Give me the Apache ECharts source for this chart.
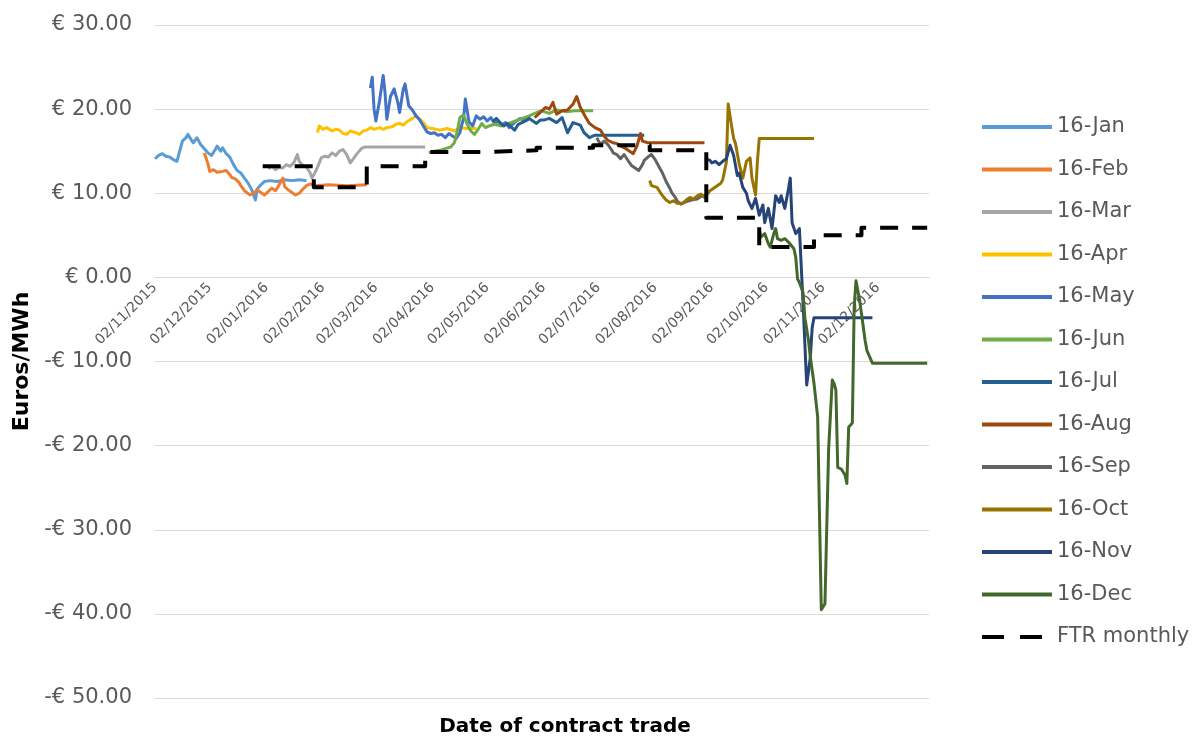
<!DOCTYPE html>
<html>
<head>
<meta charset="utf-8">
<script src="https://cdn.jsdelivr.net/npm/echarts@6/dist/echarts.min.js"></script>
<style>html,body{margin:0;padding:0;background:#fff}#c{width:1203px;height:740px}</style>
</head>
<body>
<div id="c"></div>
<script>
// x values: trade day, counted in days since 02/11/2015
const tickLabels = ['02/11/2015','02/12/2015','02/01/2016','02/02/2016','02/03/2016','02/04/2016','02/05/2016','02/06/2016','02/07/2016','02/08/2016','02/09/2016','02/10/2016','02/11/2016','02/12/2016'];
const seriesNames = ['16-Jan','16-Feb','16-Mar','16-Apr','16-May','16-Jun','16-Jul','16-Aug','16-Sep','16-Oct','16-Nov','16-Dec','FTR monthly'];

const jan16 = [[0,14.1],[2,14.5],[4,14.7],[6,14.4],[8,14.3],[10,14.0],[12,13.8],[13,14.6],[15,16.2],[17,16.6],[18,17.0],[20,16.3],[21,16.0],[23,16.6],[25,15.8],[27,15.3],[29,14.8],[31,14.5],[33,15.2],[34,15.6],[36,15.0],[37,15.4],[39,14.7],[41,14.3],[43,13.4],[45,12.7],[47,12.4],[49,11.8],[51,11.2],[53,10.4],[55,9.2],[56,10.5],[58,11.0],[60,11.4],[63,11.5],[67,11.4],[71,11.6],[75,11.5],[79,11.6],[83,11.5]];
const feb16 = [[27,14.8],[29,13.5],[30,12.6],[32,12.8],[34,12.5],[37,12.6],[39,12.7],[41,12.2],[42,11.9],[44,11.7],[46,11.3],[47,10.9],[49,10.3],[50,10.1],[52,9.8],[54,10.0],[56,10.4],[58,10.1],[60,9.8],[62,10.2],[64,10.6],[66,10.3],[68,11.0],[70,11.8],[71,10.8],[73,10.4],[75,10.1],[77,9.8],[79,10.0],[81,10.5],[83,10.9],[85,11.1],[88,10.9],[95,11.0],[105,10.9],[116,11.0]];
const mar16 = [[62,12.9],[64,13.2],[66,12.8],[68,13.1],[70,13.0],[72,13.4],[74,13.2],[76,13.6],[78,14.6],[79,13.8],[81,13.3],[83,13.1],[85,12.4],[86,11.8],[88,12.6],[90,13.6],[91,14.2],[93,14.4],[95,14.3],[97,14.8],[99,14.5],[101,15.0],[103,15.2],[105,14.6],[107,13.6],[109,14.2],[111,14.8],[113,15.3],[115,15.5],[125,15.5],[135,15.5],[148,15.5]];
const apr16 = [[89,17.2],[90,18.0],[92,17.6],[94,17.8],[97,17.4],[99,17.6],[101,17.5],[103,17.1],[105,17.0],[107,17.4],[108,17.5],[110,17.2],[112,17.0],[114,17.4],[116,17.5],[118,17.8],[120,17.6],[123,17.8],[125,17.6],[127,17.8],[130,17.9],[132,18.2],[134,18.3],[136,18.1],[138,18.5],[141,18.9],[143,19.2],[145,18.8],[147,18.4],[149,17.8],[152,17.7],[156,17.5],[160,17.7],[164,17.4],[167,17.8],[171,17.7],[176,17.7]];
const may16 = [[118,22.5],[119,23.8],[120,20.0],[121,18.6],[123,21.0],[125,24.0],[126,22.0],[127,18.8],[129,21.5],[131,22.4],[133,20.8],[134,19.6],[136,22.4],[137,23.0],[139,20.4],[141,19.9],[143,19.2],[145,18.7],[147,18.0],[149,17.3],[151,17.1],[153,17.2],[155,16.9],[157,17.0],[159,16.6],[161,17.1],[163,16.8],[165,16.5],[167,17.2],[169,18.9],[170,21.2],[172,18.5],[174,18.0],[176,19.2],[178,18.8],[180,19.1],[182,18.6],[184,19.0],[186,18.3],[188,18.6],[190,18.1],[192,18.4],[194,17.8],[196,18.2],[198,18.6],[200,18.9],[202,18.7],[205,18.8]];
const jun16 = [[150,14.8],[153,15.0],[156,15.1],[159,15.3],[162,15.5],[164,16.0],[166,17.8],[167,19.0],[169,19.3],[171,18.2],[173,17.4],[175,17.0],[177,17.6],[179,18.3],[181,17.8],[183,18.0],[186,18.2],[190,18.0],[195,18.4],[200,18.8],[205,19.2],[209,19.6],[212,19.8],[216,19.5],[220,19.9],[225,19.7],[230,19.8],[235,19.8],[240,19.8]];
const jul16 = [[185,18.5],[187,18.9],[189,18.4],[191,18.0],[193,18.3],[195,17.9],[197,17.5],[199,18.2],[201,18.4],[203,18.6],[205,18.9],[207,18.6],[209,18.3],[211,18.7],[213,18.7],[216,18.9],[220,18.4],[223,19.0],[226,17.2],[229,18.4],[233,18.1],[235,17.2],[238,16.6],[241,16.9],[250,16.9],[260,16.9],[268,16.9]];
const aug16 = [[208,19.0],[211,19.6],[214,20.2],[216,20.0],[218,20.8],[220,19.4],[223,19.8],[226,19.9],[229,20.6],[231,21.5],[233,20.2],[234,19.8],[236,19.0],[238,18.3],[241,17.8],[244,17.5],[246,16.8],[248,16.3],[251,16.0],[253,15.9],[256,15.5],[258,15.3],[260,15.0],[262,14.7],[264,15.6],[266,17.1],[267,16.2],[270,16.0],[285,16.0],[301,16.0]];
const sep16 = [[242,16.6],[244,15.8],[246,16.2],[248,15.8],[250,15.2],[251,14.8],[253,14.6],[255,14.1],[257,14.6],[258,14.4],[260,13.6],[261,13.3],[263,13.0],[265,12.7],[267,13.4],[268,13.9],[270,14.3],[272,14.6],[274,14.0],[275,13.6],[277,12.8],[278,12.4],[280,11.4],[282,10.6],[283,10.1],[285,9.5],[286,9.1],[288,8.7],[289,8.6],[291,9.0],[292,8.8],[294,9.2],[295,9.4],[297,9.3],[299,9.6],[302,9.8]];
const oct16 = [[271,11.5],[272,10.9],[275,10.7],[278,9.7],[280,9.2],[282,8.9],[284,9.1],[286,8.8],[289,8.8],[291,9.2],[293,9.5],[295,9.3],[297,9.7],[299,9.9],[300,10.1],[301,9.5],[303,10.0],[304,10.3],[306,10.6],[308,10.9],[310,11.2],[311,11.6],[313,13.7],[314,20.6],[316,17.8],[317,16.5],[318,15.9],[320,13.5],[322,11.8],[324,13.8],[326,14.2],[327,11.8],[329,9.8],[330,13.8],[331,16.5],[340,16.5],[350,16.5],[361,16.5]];
const nov16 = [[302,14.1],[304,13.9],[305,13.6],[307,13.8],[309,13.4],[311,13.8],[313,14.1],[315,15.7],[317,14.5],[319,12.1],[320,12.4],[322,10.7],[324,10.0],[325,9.1],[327,8.2],[329,9.4],[331,7.4],[333,8.6],[334,6.5],[336,8.2],[338,5.8],[340,9.7],[342,8.9],[343,9.7],[345,8.2],[347,10.5],[348,11.8],[349,6.5],[351,5.2],[352,5.0],[353,5.8],[355,-3.0],[357,-12.8],[359,-9.5],[360,-6.0],[361,-4.8],[375,-4.8],[393,-4.8]];
const dec16 = [[331,5.6],[332,4.8],[334,5.2],[336,4.0],[337,3.6],[339,5.2],[340,5.8],[341,4.6],[343,4.4],[345,4.6],[347,4.2],[348,4.2],[350,3.4],[351,2.4],[352,-0.2],[353,-0.6],[354,-1.2],[355,-1.8],[356,-4.8],[358,-7.5],[359,-9.5],[361,-12.6],[363,-16.6],[365,-39.5],[367,-38.8],[368,-38.7],[369,-20.5],[371,-12.2],[372,-12.6],[373,-13.4],[374,-22.6],[376,-22.8],[377,-22.9],[378,-23.5],[379,-24.5],[380,-17.8],[382,-17.3],[383,-3.6],[384,-0.4],[386,-2.7],[387,-4.3],[389,-7.5],[390,-8.7],[393,-10.2],[400,-10.2],[410,-10.2],[423,-10.2]];
const ftrMonthly = [[59,13.2],[87,13.2],[87,10.7],[116,10.7],[116,13.2],[148,13.2],[148,14.9],[179,14.9],[179,15.1],[209,15.1],[209,15.4],[240,15.4],[240,15.7],[271,15.7],[271,15.1],[302,15.1],[302,7.1],[331,7.1],[331,3.6],[361,3.6],[361,5.0],[387,5.0],[387,5.9],[423,5.9]];

const seriesData = [jan16,feb16,mar16,apr16,may16,jun16,jul16,aug16,sep16,oct16,nov16,dec16,ftrMonthly];
const colors = ['#5B9BD5','#ED7D31','#A5A5A5','#FFC000','#4472C4','#70AD47','#255E91','#9E480E','#636363','#997300','#264478','#43682B','#000000'];

const START = Date.UTC(2015,10,2);
function labelToDay(s){const p=s.split('/').map(Number);return Math.round((Date.UTC(p[2],p[1]-1,p[0])-START)/864e5);}
const tickDays = tickLabels.map(labelToDay);

const FONT = 'DejaVu Sans';
const GRID_TOP = 25, GRID_BOTTOM = 42, Y_MIN = -50, Y_MAX = 30;
const plotH = 740 - GRID_TOP - GRID_BOTTOM;
// pull the date axis up to the zero line (as in the original)
const zeroOffset = -plotH * (0 - Y_MIN) / (Y_MAX - Y_MIN);

const legendData = seriesNames.map(function(n,i){
  return i===12 ? {name:n, lineStyle:{type:[22,16]}} : {name:n};
});

const chart = echarts.init(document.getElementById('c'));
chart.setOption({
  animation:false,
  backgroundColor:'#fff',
  color:colors,
  grid:{left:155,right:274,top:GRID_TOP,bottom:GRID_BOTTOM,containLabel:false,outerBoundsMode:'none'},
  xAxis:{type:'value',min:0,max:424,offset:zeroOffset,
    axisLine:{show:true,onZero:false,lineStyle:{color:'#D9D9D9',width:1}},
    axisTick:{show:false},splitLine:{show:false},
    axisLabel:{customValues:tickDays,rotate:45,margin:8,fontFamily:FONT,fontSize:14,color:'#595959',hideOverlap:false,
      formatter:function(v){const i=tickDays.indexOf(Math.round(v));return i>=0?tickLabels[i]:'';}}
  },
  yAxis:{type:'value',min:Y_MIN,max:Y_MAX,interval:10,
    axisLine:{show:false},axisTick:{show:false},
    splitLine:{lineStyle:{color:'#D9D9D9',width:1}},
    axisLabel:{margin:23,fontFamily:FONT,fontSize:21,color:'#595959',
      formatter:function(v){return (v<0?'-€ ':'€ ')+Math.abs(v).toFixed(2);}},
    name:'Euros/MWh',nameLocation:'middle',nameGap:122,nameRotate:90,
    nameTextStyle:{fontFamily:FONT,fontSize:22,fontWeight:'bold',color:'#000'}
  },
  legend:{orient:'vertical',left:975,top:111,itemWidth:70,itemHeight:14,itemGap:20.5,
    textStyle:{fontFamily:FONT,fontSize:21,color:'#595959',lineHeight:22},
    lineStyle:{width:4},
    itemStyle:{opacity:0},
    data:legendData
  },
  graphic:[{type:'text',x:565,y:727,style:{text:'Date of contract trade',fontFamily:FONT,fontSize:20,fontWeight:'bold',fill:'#000',align:'center',verticalAlign:'middle'}}],
  series:seriesData.map(function(d,i){
    const isFtr = i===12;
    return {name:seriesNames[i],type:'line',data:d,symbol:'none',
      lineStyle:{width:isFtr?4:3,color:colors[i],type:isFtr?[18,14]:'solid',cap:'butt',join:'round'},
      itemStyle:{color:colors[i]}};
  })
});
</script>
</body>
</html>
